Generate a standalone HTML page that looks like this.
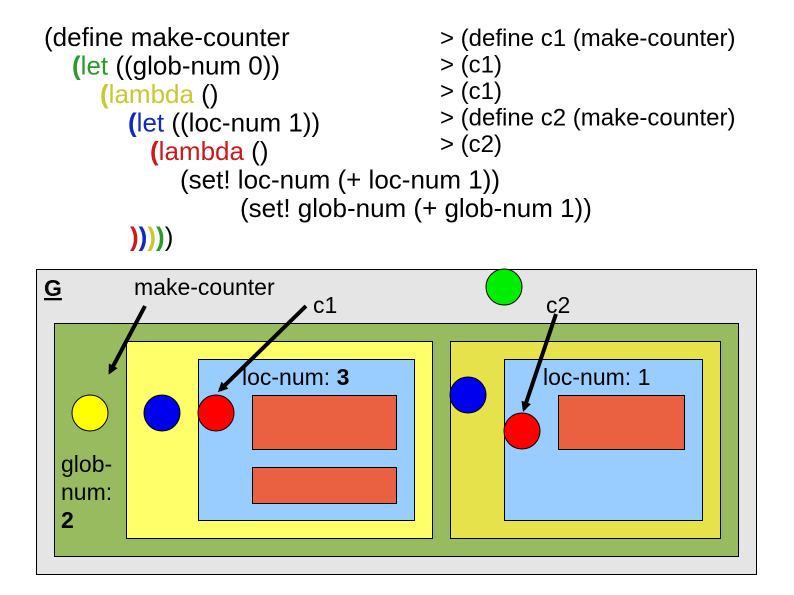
<!DOCTYPE html>
<html><head><meta charset="utf-8"><style>
html,body{margin:0;padding:0;background:#fff;}
svg{display:block;font-family:"Liberation Sans",Arial,sans-serif;}
</style></head><body>
<svg width="794" height="595" viewBox="0 0 794 595" xmlns="http://www.w3.org/2000/svg">
<defs>
<marker id="ah" markerWidth="10" markerHeight="10" refX="7" refY="5" orient="auto" markerUnits="userSpaceOnUse">
<path d="M0,0 L10,5 L0,10 z" fill="#000"/>
</marker>
</defs>
<g font-size="26" fill="#000">
<text x="44" y="46">(define make-counter</text>
<text x="72" y="74.5"><tspan fill="#2a9a2a" font-weight="bold">(</tspan><tspan fill="#2a9a2a">let</tspan> ((glob-num 0))</text>
<text x="100" y="103"><tspan fill="#c8c832" font-weight="bold">(</tspan><tspan fill="#c8c832">lambda</tspan> ()</text>
<text x="128" y="131.5"><tspan fill="#1028c8" font-weight="bold">(</tspan><tspan fill="#1028c8">let</tspan> ((loc-num 1))</text>
<text x="150" y="160"><tspan fill="#d01818" font-weight="bold">(</tspan><tspan fill="#d01818">lambda</tspan> ()</text>
<text x="180" y="188.5">(set! loc-num (+ loc-num 1))</text>
<text x="240" y="217">(set! glob-num (+ glob-num 1))</text>
<text x="130" y="245.5" font-weight="bold"><tspan fill="#d01818">)</tspan><tspan fill="#1028c8">)</tspan><tspan fill="#c8c832">)</tspan><tspan fill="#2a9a2a">)</tspan><tspan fill="#000" font-weight="normal">)</tspan></text>
</g>
<g font-size="24" fill="#000">
<text x="440" y="46">&gt; (define c1 (make-counter)</text>
<text x="440" y="72.5">&gt; (c1)</text>
<text x="440" y="99">&gt; (c1)</text>
<text x="440" y="125.5">&gt; (define c2 (make-counter)</text>
<text x="440" y="152">&gt; (c2)</text>
</g>
<rect x="36.5" y="269.5" width="720" height="305" fill="#e5e5e5" stroke="#000"/>
<rect x="54.5" y="323.5" width="684" height="233" fill="#99bb5f" stroke="#000"/>
<rect x="126.5" y="341.5" width="306" height="197" fill="#ffff6a" stroke="#000"/>
<rect x="198.5" y="359.5" width="216" height="161" fill="#99ccff" stroke="#000"/>
<rect x="252.5" y="395.5" width="144" height="54" fill="#e96140" stroke="#000"/>
<rect x="252.5" y="467.5" width="144" height="36" fill="#e96140" stroke="#000"/>
<rect x="450.5" y="341.5" width="270" height="197" fill="#e6e24c" stroke="#000"/>
<rect x="504.5" y="359.5" width="198" height="161" fill="#99ccff" stroke="#000"/>
<rect x="558.5" y="395.5" width="126" height="54" fill="#e96140" stroke="#000"/>
<circle cx="90" cy="413" r="18" fill="#ffff00" stroke="#000"/>
<circle cx="162" cy="413" r="18" fill="#0000ee" stroke="#000"/>
<circle cx="216" cy="413" r="18" fill="#ff0000" stroke="#000"/>
<circle cx="504" cy="287" r="18" fill="#00ee00" stroke="#000"/>
<circle cx="468" cy="395" r="18" fill="#0000ee" stroke="#000"/>
<circle cx="522" cy="431" r="18" fill="#ff0000" stroke="#000"/>
<g font-size="23" fill="#000">
<text x="44" y="296" font-weight="bold" text-decoration="underline">G</text>
<text x="134" y="295">make-counter</text>
<text x="313" y="313">c1</text>
<text x="546" y="313">c2</text>
<text x="242" y="385">loc-num: <tspan font-weight="bold">3</tspan></text>
<text x="543" y="385">loc-num: 1</text>
<text x="61" y="472">glob-</text>
<text x="61" y="500">num:</text>
<text x="61" y="528" font-weight="bold">2</text>
</g>
<g stroke="#000" stroke-width="4" fill="none">
<line x1="145" y1="306" x2="110" y2="372" marker-end="url(#ah)"/>
<line x1="306" y1="306" x2="220" y2="390" marker-end="url(#ah)"/>
<line x1="556" y1="314" x2="524" y2="409" marker-end="url(#ah)"/>
</g>
</svg>
</body></html>
